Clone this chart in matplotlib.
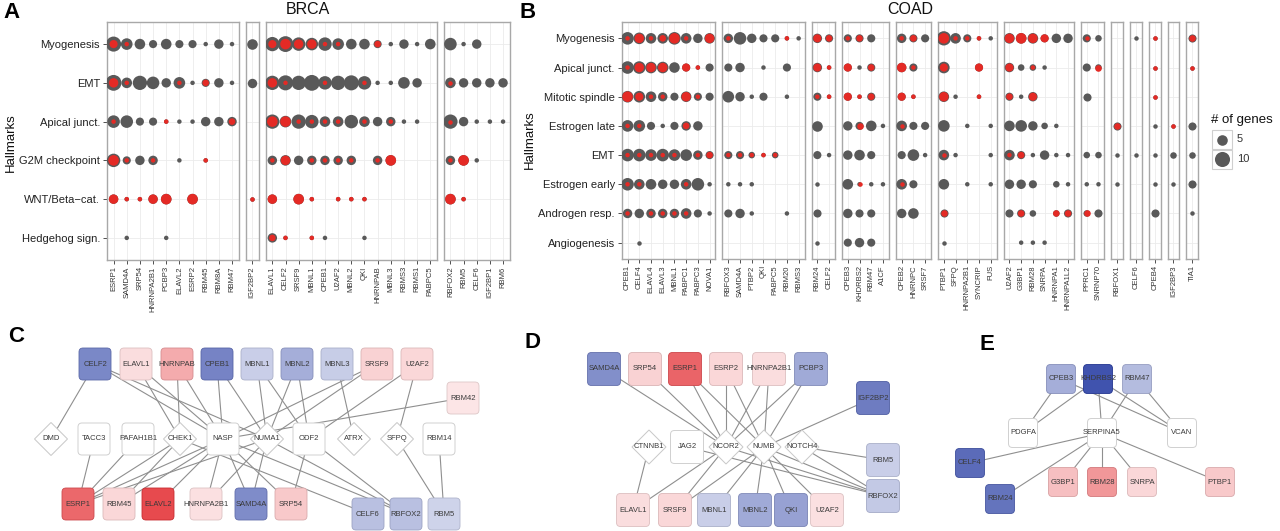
import numpy as np
import matplotlib
matplotlib.use("Agg")
import matplotlib.pyplot as plt
from matplotlib.patches import FancyBboxPatch, Polygon, Rectangle
from matplotlib.colors import LinearSegmentedColormap, Normalize

plt.rcParams['font.family'] = ['Liberation Sans', 'DejaVu Sans']

# ============================ DATA ============================
BRCA_hallmarks = ["Myogenesis", "EMT", "Apical junct.", "G2M checkpoint",
                  "WNT/Beta\u2212cat.", "Hedgehog sign."]
BRCA_groups = [
    ["ESRP1", "SAMD4A", "SRP54", "HNRNPA2B1", "PCBP3", "ELAVL2", "ESRP2", "RBM45", "RBM8A", "RBM47"],
    ["IGF2BP2"],
    ["ELAVL1", "CELF2", "SRSF9", "MBNL1", "CPEB1", "U2AF2", "MBNL2", "QKI", "HNRNPAB", "MBNL3",
     "RBMS3", "RBMS1", "PABPC5"],
    ["RBFOX2", "RBM5", "CELF6", "IGF2BP1", "RBM6"],
]
# number of genes per hallmark, one list per gene group
BRCA_total = {
    "Myogenesis":      [[10, 6, 5, 3, 5, 3, 3, 1, 4, 1], [5], [9, 11, 8, 7, 8, 6, 5, 5, 3, 1, 4, 1, 5], [7, 1, 4, 0, 0]],
    "EMT":             [[11, 5, 9, 7, 4, 6, 1, 3, 4, 1], [4], [9, 10, 9, 11, 8, 9, 10, 8, 1, 1, 6, 4, 0], [5, 4, 4, 4, 4]],
    "Apical junct.":   [[7, 7, 3, 3, 1, 1, 1, 4, 4, 4], [0], [9, 6, 9, 8, 5, 5, 8, 5, 4, 4, 1, 1, 0], [9, 4, 1, 1, 1]],
    "G2M checkpoint":  [[8, 3, 4, 4, 0, 1, 0, 1, 0, 0], [0], [4, 5, 4, 4, 4, 4, 4, 0, 4, 5, 0, 0, 0], [4, 5, 1, 0, 0]],
    "WNT/Beta\u2212cat.": [[4, 1, 1, 4, 5, 0, 5, 0, 0, 0], [1], [4, 0, 5, 1, 0, 1, 1, 1, 0, 0, 0, 0, 0], [5, 1, 0, 0, 0]],
    "Hedgehog sign.":  [[0, 1, 0, 0, 1, 0, 0, 0, 0, 0], [0], [4, 1, 0, 1, 1, 0, 0, 1, 0, 0, 0, 0, 0], [0, 0, 0, 0, 0]],
}
# number of those genes that are deregulated (red)
BRCA_red = {
    "Myogenesis":      [[3, 1, 0, 0, 0, 0, 0, 0, 0, 0], [0], [3, 5, 4, 4, 1, 1, 0, 0, 2, 0, 0, 0, 0], [0, 0, 0, 0, 0]],
    "EMT":             [[4, 1, 0, 0, 0, 1, 0, 2, 0, 0], [0], [4, 1, 0, 0, 1, 0, 0, 1, 0, 0, 0, 0, 0], [1, 0, 0, 0, 0]],
    "Apical junct.":   [[1, 0, 0, 0, 1, 0, 0, 0, 0, 2], [0], [5, 5, 1, 1, 1, 1, 0, 1, 0, 1, 0, 0, 0], [1, 0, 0, 0, 0]],
    "G2M checkpoint":  [[5, 1, 0, 1, 0, 0, 0, 1, 0, 0], [0], [1, 4, 0, 1, 1, 1, 1, 0, 1, 5, 0, 0, 0], [1, 5, 0, 0, 0]],
    "WNT/Beta\u2212cat.": [[4, 1, 1, 4, 5, 0, 5, 0, 0, 0], [1], [4, 0, 5, 1, 0, 1, 1, 1, 0, 0, 0, 0, 0], [5, 1, 0, 0, 0]],
    "Hedgehog sign.":  [[0, 0, 0, 0, 0, 0, 0, 0, 0, 0], [0], [2, 1, 0, 1, 0, 0, 0, 0, 0, 0, 0, 0, 0], [0, 0, 0, 0, 0]],
}

COAD_hallmarks = ["Myogenesis", "Apical junct.", "Mitotic spindle", "Estrogen late", "EMT",
                  "Estrogen early", "Androgen resp.", "Angiogenesis"]
COAD_groups = [
    ["CPEB1", "CELF4", "ELAVL4", "ELAVL3", "MBNL1", "PABPC1", "PABPC3", "NOVA1"],
    ["RBFOX3", "SAMD4A", "PTBP2", "QKI", "PABPC5", "RBM20", "RBMS3"],
    ["RBM24", "CELF2"],
    ["CPEB3", "KHDRBS2", "RBM47", "A1CF"],
    ["CPEB2", "HNRNPC", "SRSF7"],
    ["PTBP1", "SFPQ", "HNRNPA2B1", "SYNCRIP", "FUS"],
    ["U2AF2", "G3BP1", "RBM28", "SNRPA", "HNRNPA1", "HNRNPA1L2"],
    ["PPRC1", "SNRNP70"],
    ["RBFOX1"], ["CELF6"], ["CPEB4"], ["IGF2BP3"], ["TIA1"],
]
COAD_total = {
    "Myogenesis":      [[7, 6, 5, 5, 7, 5, 4, 5], [4, 7, 4, 3, 3, 1, 1], [4, 3], [3, 3, 3, 0], [4, 3, 3],
                        [9, 5, 3, 1, 1], [5, 5, 5, 3, 4, 4], [3, 2], [0], [1], [1], [0], [3]],
    "Apical junct.":   [[7, 7, 6, 6, 5, 3, 1, 3], [3, 4, 0, 1, 0, 3, 0], [4, 1], [3, 1, 3, 0], [4, 3, 0],
                        [6, 0, 0, 3, 0], [4, 2, 2, 1, 0, 0], [3, 2], [0], [0], [1], [0], [1]],
    "Mitotic spindle": [[6, 6, 5, 4, 3, 5, 3, 3], [6, 4, 1, 3, 0, 1, 0], [3, 1], [3, 1, 3, 0], [3, 1, 0],
                        [5, 1, 0, 1, 0], [3, 1, 4, 0, 0, 0], [3, 0], [0], [0], [1], [0], [0]],
    "Estrogen late":   [[6, 6, 3, 1, 3, 4, 4, 0], [0, 0, 0, 0, 0, 0, 0], [5, 0], [4, 3, 5, 1], [5, 3, 3],
                        [6, 0, 1, 0, 1], [5, 6, 4, 2, 1, 0], [0, 0], [3], [0], [1], [1], [3]],
    "EMT":             [[7, 7, 6, 7, 6, 6, 4, 3], [3, 3, 2, 1, 2, 0, 0], [3, 1], [4, 5, 3, 0], [3, 6, 1],
                        [5, 1, 0, 0, 1], [5, 3, 1, 4, 1, 1], [2, 2], [1], [1], [1], [2], [2]],
    "Estrogen early":  [[7, 5, 5, 4, 4, 5, 7, 1], [1, 1, 1, 0, 0, 0, 0], [1, 0], [5, 1, 1, 1], [5, 3, 0],
                        [5, 0, 1, 0, 1], [4, 4, 3, 0, 2, 1], [1, 1], [1], [0], [1], [1], [3]],
    "Androgen resp.":  [[4, 4, 4, 4, 4, 5, 3, 1], [3, 4, 1, 0, 0, 1, 0], [3, 0], [4, 3, 3, 0], [4, 5, 0],
                        [3, 0, 0, 0, 0], [3, 3, 2, 0, 2, 3], [2, 3], [0], [0], [3], [0], [1]],
    "Angiogenesis":    [[0, 1, 0, 0, 0, 0, 0, 0], [0, 0, 0, 0, 0, 0, 0], [1, 0], [3, 4, 3, 0], [0, 0, 0],
                        [1, 0, 0, 0, 0], [0, 1, 1, 1, 0, 0], [0, 0], [0], [0], [0], [0], [0]],
}
COAD_red = {
    "Myogenesis":      [[1, 4, 1, 2, 5, 1, 0, 4], [1, 0, 0, 0, 0, 1, 0], [3, 2], [1, 2, 0, 0], [1, 2, 0],
                        [5, 1, 1, 1, 0], [4, 5, 4, 3, 0, 0], [1, 0], [0], [0], [1], [0], [2]],
    "Apical junct.":   [[1, 4, 4, 4, 0, 3, 1, 0], [0, 0, 0, 0, 0, 0, 0], [3, 1], [3, 0, 2, 0], [4, 1, 0],
                        [3, 0, 0, 3, 0], [3, 0, 1, 0, 0, 0], [0, 2], [0], [0], [1], [0], [1]],
    "Mitotic spindle": [[5, 3, 1, 1, 0, 4, 1, 0], [0, 0, 0, 0, 0, 0, 0], [1, 1], [3, 1, 2, 0], [3, 1, 0],
                        [4, 0, 0, 1, 0], [2, 0, 3, 0, 0, 0], [0, 0], [0], [0], [1], [0], [0]],
    "Estrogen late":   [[1, 1, 0, 0, 0, 2, 0, 0], [0, 0, 0, 0, 0, 0, 0], [0, 0], [0, 2, 0, 0], [1, 0, 0],
                        [0, 0, 0, 0, 0], [0, 0, 0, 0, 0, 0], [0, 0], [2], [0], [0], [1], [0]],
    "EMT":             [[1, 1, 1, 1, 1, 0, 1, 2], [1, 1, 1, 1, 1, 0, 0], [0, 0], [0, 0, 0, 0], [0, 0, 0],
                        [1, 0, 0, 0, 0], [1, 2, 0, 0, 0, 0], [0, 0], [0], [0], [0], [0], [0]],
    "Estrogen early":  [[1, 1, 0, 0, 0, 1, 0, 0], [0, 0, 0, 0, 0, 0, 0], [0, 0], [0, 1, 0, 0], [1, 0, 0],
                        [0, 0, 0, 0, 0], [0, 0, 0, 0, 0, 0], [0, 0], [0], [0], [0], [0], [0]],
    "Androgen resp.":  [[1, 0, 1, 1, 1, 1, 0, 0], [0, 0, 0, 0, 0, 0, 0], [0, 0], [0, 0, 0, 0], [0, 0, 0],
                        [2, 0, 0, 0, 0], [0, 2, 0, 0, 2, 2], [2, 0], [0], [0], [0], [0], [0]],
    "Angiogenesis":    [[0, 0, 0, 0, 0, 0, 0, 0], [0, 0, 0, 0, 0, 0, 0], [0, 0], [0, 0, 0, 0], [0, 0, 0],
                        [0, 0, 0, 0, 0], [0, 0, 0, 0, 0, 0], [0, 0], [0], [0], [0], [0], [0]],
}
legend_sizes = [5, 10]

# ---- networks: RBP expression scores (negative = down / blue, positive = up / red)
C_rbp_scores = {"CELF2": -0.66, "ELAVL1": 0.17, "HNRNPAB": 0.42, "CPEB1": -0.68, "MBNL1": -0.27,
                "MBNL2": -0.45, "MBNL3": -0.28, "SRSF9": 0.22, "U2AF2": 0.20, "RBM42": 0.13,
                "ESRP1": 0.75, "RBM45": 0.20, "ELAVL2": 0.90, "HNRNPA2B1": 0.15, "SAMD4A": -0.64,
                "SRP54": 0.27, "CELF6": -0.35, "RBFOX2": -0.35, "RBM5": -0.25}
C_targets = {"DMD": "diamond", "TACC3": "box", "PAFAH1B1": "box", "CHEK1": "diamond", "NASP": "box",
             "NUMA1": "diamond", "ODF2": "box", "ATRX": "diamond", "SFPQ": "diamond", "RBM14": "box"}
C_edges = [("CELF2", "DMD"), ("CELF2", "NASP"), ("CELF2", "NUMA1"), ("ELAVL1", "CHEK1"),
           ("ELAVL1", "NASP"), ("HNRNPAB", "CHEK1"), ("HNRNPAB", "NASP"), ("CPEB1", "NASP"),
           ("CPEB1", "NUMA1"), ("MBNL1", "NUMA1"), ("MBNL1", "ODF2"), ("MBNL2", "NUMA1"),
           ("MBNL2", "ODF2"), ("MBNL3", "ATRX"), ("SRSF9", "NASP"), ("SRSF9", "NUMA1"),
           ("U2AF2", "ODF2"), ("U2AF2", "SFPQ"), ("RBM42", "NASP"), ("ESRP1", "TACC3"),
           ("ESRP1", "PAFAH1B1"), ("ESRP1", "CHEK1"), ("ESRP1", "NASP"), ("ESRP1", "NUMA1"),
           ("RBM45", "CHEK1"), ("RBM45", "NASP"), ("ELAVL2", "NASP"), ("HNRNPA2B1", "NASP"),
           ("HNRNPA2B1", "NUMA1"), ("SAMD4A", "NASP"), ("SAMD4A", "NUMA1"), ("SRP54", "NASP"),
           ("SRP54", "ODF2"), ("CELF6", "CHEK1"), ("RBFOX2", "NASP"), ("RBFOX2", "NUMA1"),
           ("RBFOX2", "ODF2"), ("RBM5", "SFPQ"), ("RBM5", "RBM14")]

D_rbp_scores = {"SAMD4A": -0.62, "SRP54": 0.22, "ESRP1": 0.77, "ESRP2": 0.20, "HNRNPA2B1": 0.17,
                "PCBP3": -0.47, "IGF2BP2": -0.72, "RBM5": -0.27, "RBFOX2": -0.30, "ELAVL1": 0.17,
                "SRSF9": 0.20, "MBNL1": -0.27, "MBNL2": -0.47, "QKI": -0.52, "U2AF2": 0.15}
D_targets = {"CTNNB1": "diamond", "JAG2": "box", "NCOR2": "diamond", "NUMB": "diamond",
             "NOTCH4": "diamond"}
D_edges = [("SAMD4A", "NCOR2"), ("SRP54", "NCOR2"), ("ESRP1", "NCOR2"), ("ESRP1", "NUMB"),
           ("ESRP2", "NCOR2"), ("ESRP2", "NUMB"), ("HNRNPA2B1", "NCOR2"), ("HNRNPA2B1", "NUMB"),
           ("PCBP3", "NCOR2"), ("PCBP3", "NUMB"), ("IGF2BP2", "NUMB"), ("CTNNB1", "ELAVL1"),
           ("NCOR2", "ELAVL1"), ("NCOR2", "SRSF9"), ("NCOR2", "RBFOX2"), ("NUMB", "SRSF9"),
           ("NUMB", "MBNL1"), ("NUMB", "MBNL2"), ("NUMB", "QKI"), ("NUMB", "U2AF2"),
           ("NUMB", "RBFOX2"), ("NOTCH4", "RBM5"), ("NOTCH4", "RBFOX2"), ("JAG2", "RBFOX2")]

E_rbp_scores = {"CPEB3": -0.45, "KHDRBS2": -0.95, "RBM47": -0.37, "CELF4": -0.82, "RBM24": -0.77,
                "G3BP1": 0.32, "RBM28": 0.52, "SNRPA": 0.20, "PTBP1": 0.27}
E_targets = {"PDGFA": "box", "SERPINA5": "box", "VCAN": "box"}
E_edges = [("CPEB3", "PDGFA"), ("KHDRBS2", "PDGFA"), ("CPEB3", "VCAN"), ("KHDRBS2", "SERPINA5"),
           ("KHDRBS2", "VCAN"), ("RBM47", "SERPINA5"), ("RBM47", "VCAN"), ("SERPINA5", "CELF4"),
           ("SERPINA5", "RBM24"), ("SERPINA5", "G3BP1"), ("SERPINA5", "RBM28"),
           ("SERPINA5", "SNRPA"), ("SERPINA5", "PTBP1")]

# ============================ LAYOUT (pixels) ============================
W, H = 1280, 531
C_layout = {"CELF2": (95, 364), "ELAVL1": (136, 364), "HNRNPAB": (177, 364), "CPEB1": (217, 364),
            "MBNL1": (257, 364), "MBNL2": (297, 364), "MBNL3": (337, 364), "SRSF9": (377, 364),
            "U2AF2": (417, 364), "RBM42": (463, 398),
            "DMD": (51, 439), "TACC3": (94, 439), "PAFAH1B1": (138, 439), "CHEK1": (180, 439),
            "NASP": (223, 439), "NUMA1": (267, 439), "ODF2": (309, 439), "ATRX": (354, 439),
            "SFPQ": (397, 439), "RBM14": (439, 439),
            "ESRP1": (78, 504), "RBM45": (119, 504), "ELAVL2": (158, 504), "HNRNPA2B1": (206, 504),
            "SAMD4A": (251, 504), "SRP54": (291, 504), "CELF6": (368, 514), "RBFOX2": (406, 514),
            "RBM5": (444, 514)}
D_layout = {"SAMD4A": (604, 369), "SRP54": (645, 369), "ESRP1": (685, 369), "ESRP2": (726, 369),
            "HNRNPA2B1": (769, 369), "PCBP3": (811, 369), "IGF2BP2": (873, 398),
            "CTNNB1": (649, 447), "JAG2": (687, 447), "NCOR2": (726, 447), "NUMB": (764, 447),
            "NOTCH4": (802, 447), "RBM5": (883, 460),
            "ELAVL1": (633, 510), "SRSF9": (675, 510), "MBNL1": (714, 510), "MBNL2": (755, 510),
            "QKI": (791, 510), "U2AF2": (827, 510), "RBFOX2": (883, 496)}
E_layout = {"CPEB3": (1061, 379), "KHDRBS2": (1098, 379), "RBM47": (1137, 379),
            "PDGFA": (1023, 433), "SERPINA5": (1102, 433), "VCAN": (1182, 433),
            "CELF4": (970, 463), "RBM24": (1000, 499), "G3BP1": (1063, 482), "RBM28": (1102, 482),
            "SNRPA": (1142, 482), "PTBP1": (1220, 482)}

GRAY = "#595959"
RED = "#E42A25"
TXT = "#333333"

fig = plt.figure(figsize=(W / 100, H / 100), dpi=100)

# overlay axes in pixel coordinates (networks, legend, labels)
ov = fig.add_axes([0, 0, 1, 1])
ov.set_xlim(0, W)
ov.set_ylim(H, 0)
ov.axis("off")


def px_axes(x0, y0, w, h):
    return fig.add_axes([x0 / W, 1 - (y0 + h) / H, w / W, h / H])


def dsize(n):
    d = np.sqrt(20 + 23 * (np.asarray(n, float) - 1))  # diameter in px
    return (d * 0.72) ** 2


def dot_panel(groups, hallmarks, total, red, left, top, bottom, unit, gap, ey):
    nrows = len(hallmarks)
    x = left
    for gi, genes in enumerate(groups):
        n = len(genes)
        w = n * unit
        ax = px_axes(x, top, w, bottom - top)
        ax.set_xlim(-0.5, n - 0.5)
        ax.set_ylim(nrows - 1 + ey, -ey)
        ax.set_xticks(range(n))
        ax.set_xticklabels(genes, rotation=90, fontsize=5.5, color=TXT)
        ax.set_yticks(range(nrows))
        ax.grid(True, color="#ebebeb", lw=0.6, zorder=0)
        ax.set_axisbelow(True)
        for s in ax.spines.values():
            s.set_color("#a8a8a8")
            s.set_linewidth(1.0)
        ax.tick_params(axis="x", length=3, width=0.6, color=TXT, pad=1.5)
        if gi == 0:
            ax.set_yticklabels(hallmarks, fontsize=8, color="#222222")
            ax.tick_params(axis="y", length=3, width=0.6, color=TXT, pad=2)
        else:
            ax.tick_params(axis="y", length=0, labelleft=False)
        xi = np.arange(n)
        for r, hm in enumerate(hallmarks):
            tot = np.asarray(total[hm][gi])
            rd = np.asarray(red[hm][gi])
            m = tot > 0
            if m.any():
                ax.scatter(xi[m], np.full(m.sum(), r), s=dsize(tot[m]), c=GRAY,
                           linewidths=0, zorder=3)
            m2 = rd > 0
            if m2.any():
                ax.scatter(xi[m2], np.full(m2.sum(), r), s=dsize(rd[m2]), c=RED,
                           linewidths=0, zorder=4)
        x += w + gap
    return x - gap


# ---- Panel A (BRCA)
endA = dot_panel(BRCA_groups, BRCA_hallmarks, BRCA_total, BRCA_red,
                 left=107, top=22, bottom=260, unit=13.16, gap=7, ey=0.57)
# ---- Panel B (COAD)
endB = dot_panel(COAD_groups, COAD_hallmarks, COAD_total, COAD_red,
                 left=621.7, top=22, bottom=259, unit=11.72, gap=7, ey=0.56)

ov.text(308, 10, "BRCA", fontsize=11.5, ha="center", va="center", color="#111111")
ov.text(910, 9, "COAD", fontsize=11.5, ha="center", va="center", color="#111111")
ov.text(11, 143, "Hallmarks", fontsize=9.5, rotation=90, ha="center", va="center", color="#111111")
ov.text(530, 140, "Hallmarks", fontsize=9.5, rotation=90, ha="center", va="center", color="#111111")
for lab, (lx, ly) in {"A": (11, 12), "B": (528, 13), "C": (16, 336),
                      "D": (532, 343), "E": (987, 344)}.items():
    ov.text(lx, ly, lab, fontsize=16, fontweight="bold", ha="center", va="center", color="black")

# ---- size legend
ov.text(1211, 120, "# of genes", fontsize=9.5, ha="left", va="center", color="#111111")
for i, n in enumerate(legend_sizes):
    y0 = 130 + i * 19.5
    ov.add_patch(Rectangle((1212, y0), 20, 19, facecolor="white", edgecolor="#cfcfcf", lw=0.8))
    ov.scatter([1222], [y0 + 9.5], s=dsize(n), c=GRAY, linewidths=0, zorder=5)
    ov.text(1237, y0 + 9.5, str(n), fontsize=8, ha="left", va="center", color=TXT)

# ---- networks
cmap = LinearSegmentedColormap.from_list(
    "net", [(55 / 255, 75 / 255, 170 / 255), (1, 1, 1), (228 / 255, 55 / 255, 60 / 255)])
norm = Normalize(-1, 1)


def network(scores, targets, edges, layout, box):
    for a, b in edges:
        (x1, y1), (x2, y2) = layout[a], layout[b]
        ov.plot([x1, x2], [y1, y2], color="#8f8f8f", lw=0.8, zorder=2, solid_capstyle="butt")
    r = box / 2
    for name, (x, y) in layout.items():
        if name in scores:
            fc = cmap(norm(scores[name]))
            ec = tuple(max(0, c - 0.12) for c in fc[:3])
            ov.add_patch(FancyBboxPatch((x - r, y - r), box, box,
                                        boxstyle="round,pad=0,rounding_size=4",
                                        facecolor=fc, edgecolor=ec, lw=0.6, zorder=3))
        elif targets.get(name) == "diamond":
            rr = r + 0.5
            ov.add_patch(Polygon([(x, y - rr), (x + rr, y), (x, y + rr), (x - rr, y)],
                                 closed=True, facecolor="white", edgecolor="#c8c8c8",
                                 lw=0.7, zorder=3))
        else:
            ov.add_patch(FancyBboxPatch((x - r, y - r), box, box,
                                        boxstyle="round,pad=0,rounding_size=4",
                                        facecolor="white", edgecolor="#d0d0d0", lw=0.7, zorder=3))
        ov.text(x, y, name, fontsize=5.5, ha="center", va="center", color="#3a3a3a", zorder=4)


network(C_rbp_scores, C_targets, C_edges, C_layout, 32)
network(D_rbp_scores, D_targets, D_edges, D_layout, 33)
network(E_rbp_scores, E_targets, E_edges, E_layout, 29)

fig.savefig("out.png", dpi=100)
